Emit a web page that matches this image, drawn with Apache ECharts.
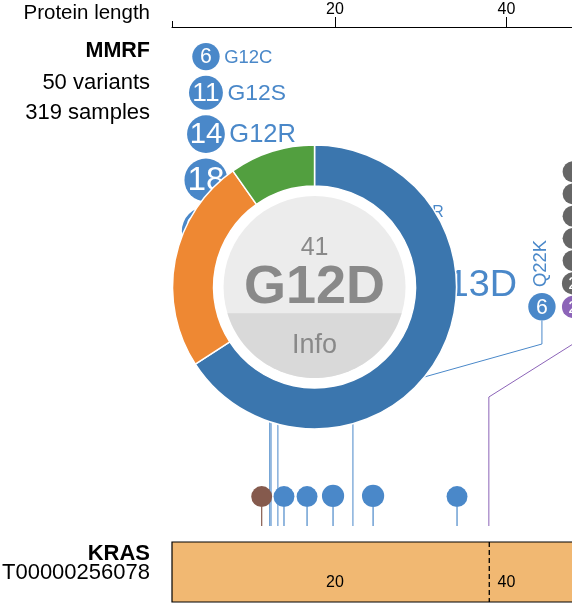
<!DOCTYPE html>
<html><head><meta charset="utf-8">
<script src="https://cdn.jsdelivr.net/npm/echarts@6/dist/echarts.min.js"></script>
<style>html,body{margin:0;padding:0;background:#fff}#c{width:572px;height:612px}</style>
</head><body><div id="c"></div>
<script>
// ---------------- data ----------------
const axisTickValues = [20, 40];
const proteinLabelValues = [20, 40];
const exonBoundaries = [38];
const proteinStart = 1;
const geneName = 'KRAS';
const transcriptId = 'T00000256078';
const cohortName = 'MMRF';
const variantCount = 50;
const sampleCount = 319;

// stacked lollipops, listed top to bottom
const g12Labels = ['G12C', 'G12S', 'G12R', '', '', ''];
const g12Counts = [6, 11, 14, 18, 22, 29];
const g12Position = 12.4;
const g13Labels = ['G13R', 'G13C', 'G13D'];
const g13Counts = [3, 2, 28];
const g13Position = 13.35;
const q22Labels = ['Q22K'];
const q22Counts = [6];
const q22Position = 22.1;
const p38Labels = ['', '', '', '', '', '', ''];
const p38Counts = [1, 1, 1, 1, 1, 2, 2];
const p38Classes = ['D', 'D', 'D', 'D', 'D', 'D', 'S'];
const p38Position = 37.95;

// expanded disc (donut)
const g12dLabel = 'G12D';
const g12dCount = 41;
const g12dPosition = 12.55;
const g12dSliceValues = [27, 10, 4];
const g12dSliceNames = ['group 1', 'group 2', 'group 3'];

// single discs close to the protein
const singlePositions = [11.46, 14.06, 16.75, 19.78, 24.45, 34.24];
const singleCounts = [1, 1, 1, 2, 2, 1];
const singleClasses = ['I', 'M', 'M', 'M', 'M', 'M'];

// ---------------- styles / layout ----------------
const FONT = "'Liberation Sans', Arial, Helvetica, sans-serif";
const classColors = { M: '#4a88c9', D: '#666666', S: '#8c64b8', I: '#855a4d' };
const donutColors = ['#3b76ae', '#ee8833', '#529f3f'];
const BASE_Y = 526, TOP_Y = 27, H = 612, X_LEFT = 172, X_RIGHT = 572, PX_PER_AA = 8.575;
const xMax = proteinStart + (X_RIGHT - X_LEFT) / PX_PER_AA;
const hOf = y => BASE_Y - y;
const radius = c => 9.8 + 0.65 * c;
const LOWER_KINK = 129, UPPER_KINK = 182;

const stacks = [
  { labels: g12Labels, counts: g12Counts, classes: g12Counts.map(() => 'M'), pos: g12Position, dx: -63.8, baseY: 318, gap: 5.5 },
  { labels: g13Labels, counts: g13Counts, classes: g13Counts.map(() => 'M'), pos: g13Position, dx: 108, baseY: 313, gap: 5.5 },
  { labels: q22Labels, counts: q22Counts, classes: ['M'], pos: q22Position, dx: 189, baseY: 320.5, gap: 5.5, vertical: true },
  { labels: p38Labels, counts: p38Counts, classes: p38Classes, pos: p38Position, dx: 84.2, baseY: 318, gap: 1.3 },
  { labels: [g12dLabel], counts: [g12dCount], classes: ['M'], pos: g12dPosition, dx: 43.5, centerY: 287, expanded: true }
];

const discData = [];
stacks.forEach((s, si) => {
  if (s.expanded) return;
  let bottom = s.baseY;
  for (let i = s.counts.length - 1; i >= 0; i--) {
    const r = radius(s.counts[i]);
    const cy = bottom - r;
    discData.push([s.pos, hOf(cy), s.counts[i], si, i]);
    bottom = cy - r - s.gap;
  }
});
const stemData = stacks.map((s, si) => [s.pos, 0, si]);
const singleData = singlePositions.map((p, i) => [p, 0, singleCounts[i], i]);

function renderDisc(params, api) {
  const s = stacks[api.value(3)], i = api.value(4), count = api.value(2);
  const p = api.coord([api.value(0), api.value(1)]);
  const cx = p[0] + s.dx, cy = p[1], r = radius(count);
  const color = classColors[s.classes[i]];
  const ch = [{ type: 'circle', shape: { cx, cy, r }, style: { fill: color } }];
  if (count > 1) ch.push({ type: 'text', style: { text: String(count), x: cx, y: cy + 1, align: 'center', verticalAlign: 'middle', fill: '#fff', fontSize: 1.55 * r, fontFamily: FONT } });
  const lab = s.labels[i];
  if (lab) {
    const fs = 1.35 * r;
    if (s.vertical) {
      ch.push({ type: 'text', x: cx - 1, y: cy - r - 6, rotation: Math.PI / 2, style: { text: lab, x: 0, y: 0, align: 'left', verticalAlign: 'middle', fill: color, fontSize: fs, fontFamily: FONT } });
    } else {
      ch.push({ type: 'text', style: { text: lab, x: cx + r + 4.5, y: cy + 1, align: 'left', verticalAlign: 'middle', fill: color, fontSize: fs, fontFamily: FONT } });
    }
  }
  return { type: 'group', children: ch };
}

function renderStem(params, api) {
  const s = stacks[api.value(2)];
  const p0 = api.coord([api.value(0), 0]);
  const p1 = api.coord([api.value(0), LOWER_KINK]);
  const p2 = api.coord([api.value(0), UPPER_KINK]);
  const topY = s.expanded ? s.centerY : s.baseY;
  const pts = [p0, p1, [p2[0] + s.dx, p2[1]], [p2[0] + s.dx, topY]];
  const color = classColors[s.classes[s.classes.length - 1]];
  return { type: 'polyline', shape: { points: pts }, style: { stroke: color, lineWidth: 1, fill: null } };
}

function renderSingle(params, api) {
  const count = api.value(2), r = radius(count);
  const color = classColors[singleClasses[api.value(3)]];
  const p0 = api.coord([api.value(0), 0]);
  const p1 = api.coord([api.value(0), 19]);
  return { type: 'group', children: [
    { type: 'line', shape: { x1: p0[0], y1: p0[1], x2: p1[0], y2: p1[1] }, style: { stroke: color, lineWidth: 1.2 } },
    { type: 'circle', shape: { cx: p1[0], cy: p1[1] - r, r }, style: { fill: color } }
  ] };
}

function renderProtein(params, api) {
  const a = api.coord([api.value(0), -16]);
  const b = api.coord([api.value(1), -76]);
  const ch = [{ type: 'rect', shape: { x: a[0], y: a[1], width: b[0] - a[0] + 5, height: b[1] - a[1] }, style: { fill: '#f1b872', stroke: '#000', lineWidth: 1.2 } }];
  exonBoundaries.forEach(e => {
    const t = api.coord([e, -16]), u = api.coord([e, -76]);
    ch.push({ type: 'line', shape: { x1: t[0], y1: t[1], x2: u[0], y2: u[1] }, style: { stroke: '#000', lineWidth: 1.3, lineDash: [5, 3] } });
  });
  proteinLabelValues.forEach(v => {
    const t = api.coord([v, -56.7]);
    ch.push({ type: 'text', style: { text: String(v), x: t[0], y: t[1], align: 'center', verticalAlign: 'middle', fill: '#000', fontSize: 16, fontFamily: FONT } });
  });
  return { type: 'group', children: ch };
}

const chart = echarts.init(document.getElementById('c'));
const baseOption = {
  animation: false,
  grid: { left: X_LEFT, right: 572 - X_RIGHT, top: TOP_Y, bottom: 0 },
  xAxis: [
    { type: 'value', position: 'top', min: proteinStart, max: xMax,
      axisLine: { show: true, onZero: false, lineStyle: { color: '#000', width: 1 } },
      axisTick: { show: true, customValues: axisTickValues, length: 10, lineStyle: { color: '#000' } },
      axisLabel: { show: true, customValues: axisTickValues, margin: 9, fontSize: 16, color: '#000', fontFamily: FONT },
      splitLine: { show: false } },
    { type: 'value', position: 'top', min: proteinStart, max: xMax,
      axisLine: { show: false, onZero: false },
      axisTick: { show: true, customValues: [proteinStart], length: 6, lineStyle: { color: '#000' } },
      axisLabel: { show: false }, splitLine: { show: false } }
  ],
  yAxis: { type: 'value', min: hOf(H), max: hOf(TOP_Y), show: false },
  series: [
    { type: 'custom', name: 'protein', z: 1, clip: false, silent: true, renderItem: renderProtein, data: [[proteinStart, xMax]] },
    { type: 'custom', name: 'stems', z: 2, clip: false, silent: true, renderItem: renderStem, data: stemData },
    { type: 'custom', name: 'singles', z: 2, clip: false, silent: true, renderItem: renderSingle, data: singleData },
    { type: 'custom', name: 'discs', z: 2, clip: false, silent: true, renderItem: renderDisc, data: discData }
  ]
};
chart.setOption(baseOption);

// donut positioned at the expanded disc, converted through the axes
const ex = stacks[4];
const cp = chart.convertToPixel({ xAxisIndex: 0, yAxisIndex: 0 }, [ex.pos, hOf(ex.centerY)]);
const dcx = cp[0] + ex.dx, dcy = cp[1];
const GR = 91, split = 26.3;
const seg = [];
const a0 = Math.asin(split / GR);
for (let k = 0; k <= 60; k++) {
  const a = a0 + (Math.PI - 2 * a0) * k / 60;
  seg.push([dcx + GR * Math.cos(a), dcy + GR * Math.sin(a)]);
}
const leftText = (text, y, bold, fs) => ({ type: 'text', z: 100, style: { text, x: 150, y, align: 'right', verticalAlign: 'middle', fill: '#000', fontSize: fs, fontWeight: bold ? 'bold' : 'normal', fontFamily: FONT } });
const centerText = (text, dy, fs, bold) => ({ type: 'text', z: 101, style: { text, x: dcx, y: dcy + dy, align: 'center', verticalAlign: 'middle', fill: '#898989', fontSize: fs, fontWeight: bold ? 'bold' : 'normal', fontFamily: FONT } });

chart.setOption({
  series: [{}, {}, {}, {},
    { type: 'pie', name: g12dLabel, z: 5, silent: true, center: [dcx, dcy], radius: [101, 142], startAngle: 90, clockwise: true,
      label: { show: false }, labelLine: { show: false }, itemStyle: { borderColor: '#fff', borderWidth: 1.5 },
      data: g12dSliceValues.map((v, i) => ({ value: v, name: g12dSliceNames[i], itemStyle: { color: donutColors[i] } })) }
  ],
  graphic: [
    leftText('Protein length', 13.5, false, 20.5),
    leftText(cohortName, 51.5, true, 21.5),
    leftText(variantCount + ' variants', 82.5, false, 22),
    leftText(sampleCount + ' samples', 113, false, 22),
    leftText(geneName, 553.5, true, 22),
    leftText(transcriptId, 573, false, 22),
    { type: 'circle', z: 99, shape: { cx: dcx, cy: dcy, r: 101 }, style: { fill: '#fff' } },
    { type: 'circle', z: 100, shape: { cx: dcx, cy: dcy, r: GR }, style: { fill: '#ececec' } },
    { type: 'polygon', z: 100, shape: { points: seg }, style: { fill: '#d9d9d9' } },
    centerText(String(g12dCount), -38.5, 25, false),
    centerText(g12dLabel, 1, 54, true),
    centerText('Info', 58.5, 27, false)
  ]
});
</script></body></html>
